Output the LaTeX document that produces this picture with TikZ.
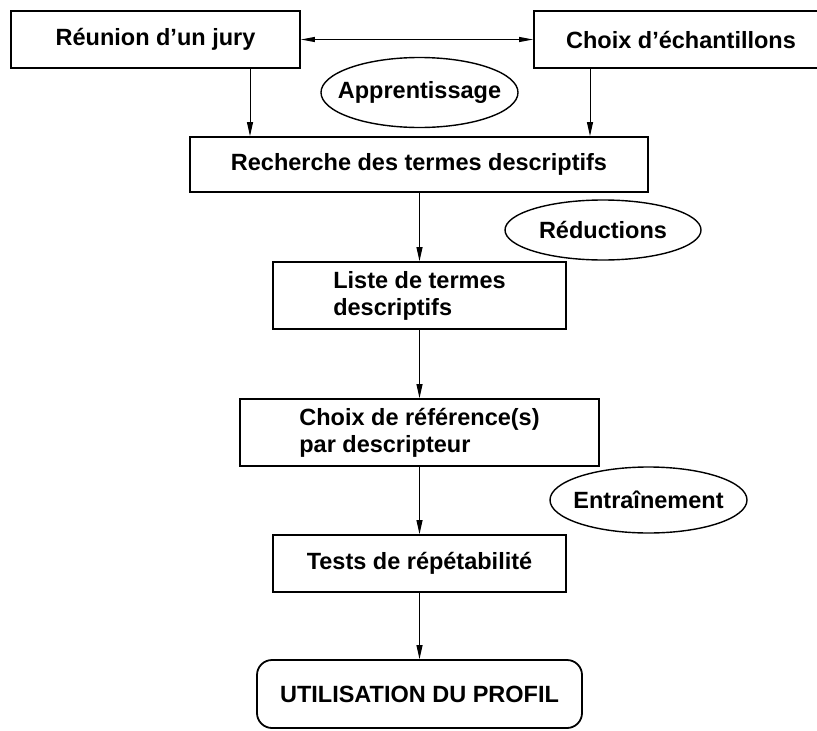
\documentclass[tikz,border=0pt]{standalone}
\usepackage{fontspec}
\setmainfont{Liberation Sans}
\usetikzlibrary{arrows.meta,shapes.geometric}

% text of fixed-size ellipses: zero width so the shape keeps its given size
\newcommand{\notetext}[1]{\makebox[0pt]{#1}}

\begin{document}
\begin{tikzpicture}[x=1pt,y=-1pt,
  every node/.style={font=\fontsize{23.5}{27}\selectfont\bfseries, inner sep=0pt},
  stepbox/.style={draw, line width=1.8pt, rectangle, align=center},
  notebox/.style={draw, line width=1.4pt, ellipse},
  endbox/.style={draw, line width=1.8pt, rectangle, rounded corners=15pt, align=center},
  arr/.style={line width=1pt, -{Triangle[length=14pt,width=6pt]}},
  darr/.style={line width=1pt, {Triangle[length=14pt,width=5pt]}-{Triangle[length=14pt,width=5pt]}}
]
\useasboundingbox (0,0) rectangle (817,731);
\clip (0,0) rectangle (817,731);

% top row
\node[stepbox, minimum width=289pt, minimum height=57pt] (jury) at (155.5,39.5) {Réunion d’un jury};
\node[stepbox, minimum width=294pt, minimum height=57pt] (echant) at (681,39.5) {Choix d’échantillons};
\node[notebox, minimum width=197pt, minimum height=70pt] (appr) at (419.5,92.5) {\notetext{Apprentissage}};

% main column
\node[stepbox, minimum width=458pt, minimum height=55pt] (rech) at (419,164.5) {Recherche des termes descriptifs};
\node[notebox, minimum width=196pt, minimum height=60pt] (reduc) at (603,230) {\notetext{Réductions}};
\node[stepbox, minimum width=293pt, minimum height=67pt, align=left] (liste) at (419.5,295.5) {Liste de termes\\descriptifs};
\node[stepbox, minimum width=359pt, minimum height=67pt, align=left] (refs) at (419.5,432.5) {Choix de référence(s)\\par descripteur};
\node[notebox, minimum width=197pt, minimum height=66pt] (entr) at (648.5,500) {\notetext{Entraînement}};
\node[stepbox, minimum width=293pt, minimum height=57pt] (tests) at (419.5,563.5) {Tests de répétabilité};
\node[endbox, minimum width=325pt, minimum height=68pt] (profil) at (419.5,694) {UTILISATION DU PROFIL};

% columns of the two feeding arrows
\coordinate (colA) at (250,0);
\coordinate (colB) at (590,0);

% connectors
\draw[darr] (jury.east) -- (echant.west);
\draw[arr] (jury.south -| colA) -- (rech.north -| colA);
\draw[arr] (echant.south -| colB) -- (rech.north -| colB);
\draw[arr] (rech.south -| liste.north) -- (liste.north);
\draw[arr] (liste.south) -- (refs.north);
\draw[arr] (refs.south) -- (tests.north);
\draw[arr] (tests.south) -- (profil.north);
\end{tikzpicture}
\end{document}
